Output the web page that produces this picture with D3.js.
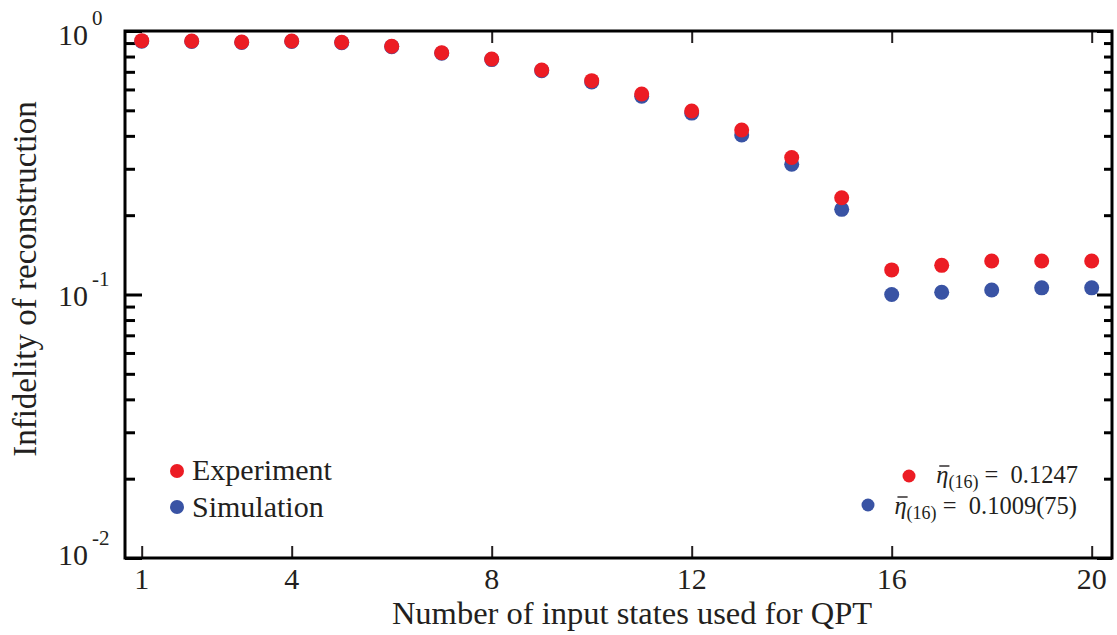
<!DOCTYPE html>
<html>
<head>
<meta charset="utf-8">
<script src="https://cdn.jsdelivr.net/npm/d3@7"></script>
<style>
  html, body { margin: 0; padding: 0; background: #fff; }
  svg text { font-family: "Liberation Serif", "Times New Roman", serif; fill: #231f20; }
</style>
</head>
<body>
<svg id="chart" width="1117" height="635"></svg>
<script>
// ---- data ----
const states = [1,2,3,4,5,6,7,8,9,10,11,12,13,14,15,16,17,18,19,20];
const experiment = [0.919,0.916,0.908,0.916,0.906,0.875,0.827,0.783,0.711,0.648,0.577,0.497,0.421,0.331,0.233,0.124,0.129,0.134,0.134,0.134];
const simulation = [0.915,0.913,0.905,0.913,0.903,0.872,0.824,0.779,0.707,0.641,0.566,0.488,0.403,0.312,0.2105,0.100,0.102,0.104,0.106,0.106];
const xTickValues = [1,4,8,12,16,20];
const xTopTickValues = [8,12,16,20];
const yMajorTicks = [0.01,0.1,1];
const yMajorExponents = ["-2","-1","0"];
const seriesNames = ["Experiment","Simulation"];
const annotationValues = ["0.1247","0.1009(75)"];

const RED = "#ec1c24", BLUE = "#3953a4";

const svg = d3.select("#chart");
const L = 125, R = 1112, T = 31, B = 558;

const x = d3.scaleLinear().domain([1,20]).range([141.7, 1091.7]);
const y = d3.scaleLog().domain([0.01,1]).range([B, T]);

const yMinor = [];
[0.01,0.1].forEach(d => { for (let k = 2; k <= 9; k++) yMinor.push(+(k*d).toPrecision(3)); });

// axes (ticks pointing inward)
function noDomain(g){ g.select(".domain").remove(); g.selectAll("text").remove(); }
svg.append("g").attr("transform",`translate(${L},0)`)
  .call(d3.axisLeft(y).tickValues(yMajorTicks).tickSize(-17).tickFormat(""))
  .call(noDomain).selectAll("line").attr("stroke","#000").attr("stroke-width",3);
svg.append("g").attr("transform",`translate(${L},0)`)
  .call(d3.axisLeft(y).tickValues(yMinor).tickSize(-10).tickFormat(""))
  .call(noDomain).selectAll("line").attr("stroke","#000").attr("stroke-width",3);
svg.append("g").attr("transform",`translate(${R},0)`)
  .call(d3.axisRight(y).tickValues(yMajorTicks).tickSize(-15).tickFormat(""))
  .call(noDomain).selectAll("line").attr("stroke","#000").attr("stroke-width",3);
svg.append("g").attr("transform",`translate(${R},0)`)
  .call(d3.axisRight(y).tickValues(yMinor).tickSize(-8).tickFormat(""))
  .call(noDomain).selectAll("line").attr("stroke","#000").attr("stroke-width",3);
svg.append("g").attr("transform",`translate(0,${B})`)
  .call(d3.axisBottom(x).tickValues(xTickValues).tickSize(-12).tickFormat(""))
  .call(noDomain).selectAll("line").attr("stroke","#231f20").attr("stroke-width",2);
svg.append("g").attr("transform",`translate(0,${T})`)
  .call(d3.axisTop(x).tickValues(xTopTickValues).tickSize(-12).tickFormat(""))
  .call(noDomain).selectAll("line").attr("stroke","#231f20").attr("stroke-width",2);

// frame
svg.append("rect").attr("x",L).attr("y",T).attr("width",R-L).attr("height",B-T)
  .attr("fill","none").attr("stroke","#000").attr("stroke-width",3);

// x tick labels
svg.append("g").selectAll("text").data(xTickValues).join("text")
  .attr("x", d => x(d)).attr("y", 589).attr("text-anchor","middle")
  .attr("font-size", 30).text(d => d);

// y tick labels
const yl = svg.append("g").selectAll("g").data(yMajorTicks).join("g");
yl.append("text").attr("x", 88).attr("y", (d,i) => y(d) + [7,11,14][i])
  .attr("text-anchor","end").attr("font-size", 30).text("10");
yl.append("text").attr("x", 92).attr("y", (d,i) => y(d) + [7,11,14][i] - 20)
  .attr("font-size", 21).text((d,i) => yMajorExponents[i]);

// axis titles
svg.append("text").attr("x", 632).attr("y", 624).attr("text-anchor","middle")
  .attr("font-size", 32.5).text("Number of input states used for QPT");
svg.append("text").attr("transform","translate(36,279) rotate(-90)")
  .attr("text-anchor","middle").attr("font-size", 33).text("Infidelity of reconstruction");

// points
const pts = svg.append("g");
pts.selectAll("circle.sim").data(states).join("circle").attr("class","sim")
  .attr("cx", (d,i) => x(d)).attr("cy", (d,i) => y(simulation[i])).attr("r", 7.5).attr("fill", BLUE);
pts.selectAll("circle.exp").data(states).join("circle").attr("class","exp")
  .attr("cx", (d,i) => x(d)).attr("cy", (d,i) => y(experiment[i])).attr("r", 7.5).attr("fill", RED);

// legend
const leg = svg.append("g");
[[RED,471,480],[BLUE,507,517]].forEach((c,i) => {
  leg.append("circle").attr("cx",177).attr("cy",c[1]).attr("r",7).attr("fill",c[0]);
  leg.append("text").attr("x",192).attr("y",c[2]).attr("font-size",30).text(seriesNames[i]);
});

// annotations
const ann = svg.append("g");
[[RED,909,476,483,1078],[BLUE,868,505,514,1077]].forEach((c,i) => {
  ann.append("circle").attr("cx",c[1]).attr("cy",c[2]).attr("r",6.5).attr("fill",c[0]);
  const t = ann.append("text").attr("x",c[4]).attr("y",c[3]).attr("text-anchor","end").attr("font-size",24.5);
  t.append("tspan").attr("font-style","italic").text("η");
  t.append("tspan").attr("font-size",18).attr("dy",5).text("(16)");
  t.append("tspan").attr("dy",-5).text("\u00a0=\u00a0\u00a0" + annotationValues[i]);
  const n = t.node();
  const s = n.getStartPositionOfChar(0), e = n.getEndPositionOfChar(0);
  ann.append("line").attr("x1", s.x + 3).attr("x2", e.x + 1)
    .attr("y1", c[3] - 17).attr("y2", c[3] - 17)
    .attr("stroke","#231f20").attr("stroke-width",1.4);
});
</script>
</body>
</html>
